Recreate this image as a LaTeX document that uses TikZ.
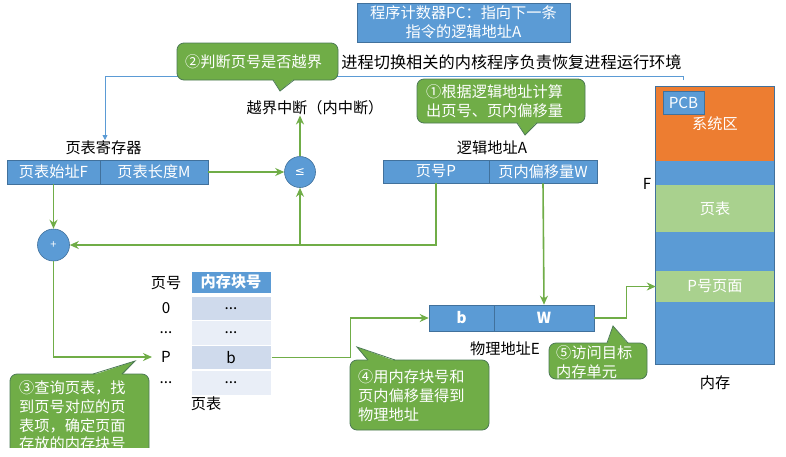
\documentclass[tikz,border=0pt]{standalone}
\usepackage{fontspec}
\setmainfont{Noto Sans CJK SC}
\newfontfamily\djsym{DejaVu Sans}
\usetikzlibrary{arrows.meta}
\definecolor{cblue}{HTML}{5B9BD5}
\definecolor{bdr}{HTML}{41719C}
\definecolor{cgreen}{HTML}{70AD47}
\definecolor{lgreen}{HTML}{A9D18E}
\definecolor{corange}{HTML}{ED7D31}
\definecolor{rowa}{HTML}{CFDAEC}
\definecolor{rowb}{HTML}{E9EEF7}
\definecolor{cbord}{HTML}{4C7A55}
\begin{document}
\begin{tikzpicture}[x=1pt,y=-1pt,
  every node/.style={font=\fontsize{15.2}{18.7}\selectfont, inner sep=0pt},
  bluebox/.style={draw=bdr, line width=0.6pt, fill=cblue, text=white},
  circ/.style={circle, draw=bdr, line width=0.6pt, fill=cblue, text=white},
  seg/.style={minimum width=118, text=white},
  cell/.style={draw=white, line width=1pt, minimum width=80},
  lbl/.style={text=black},
  ctext/.style={text=white, align=left, anchor=west},
  cbox/.style={draw=cbord, line width=0.8pt, fill=cgreen, rounded corners=7pt},
  cfill/.style={fill=cgreen},
  cline/.style={draw=cbord, line width=0.8pt},
  garrow/.style={draw=cgreen, line width=1.6pt, -{Stealth[length=9pt,width=8pt]}},
  barrow/.style={draw=cblue, line width=0.8pt, -{Triangle[length=5pt,width=5pt]}}]
\useasboundingbox (0,0) rectangle (786,456);
\clip (0,0) rectangle (786,456);
\fill[white] (0,0) rectangle (786,456);

% top PC box and text
\node[bluebox, minimum width=213, minimum height=39, align=center, font=\fontsize{15.2}{19}\selectfont] (pc) at (463.5,22.5) {程序计数器PC：指向下一条\\指令的逻辑地址A};
\node[lbl, font=\fontsize{16.2}{19}\selectfont] (env) at (511.5,62) {进程切换相关的内核程序负责恢复进程运行环境};

% memory
\node[seg, fill=corange, minimum height=74] (sys) at (715,124) {系统区};
\node[seg, fill=cblue, minimum height=24] (m1) at (715,173) {};
\node[seg, fill=lgreen, minimum height=47] (pt) at (715,208.5) {页表};
\node[seg, fill=cblue, minimum height=39] (m2) at (715,251.5) {};
\node[seg, fill=lgreen, minimum height=31] (pg) at (715,286.5) {P号页面};
\node[seg, fill=cblue, minimum height=62] (m3) at (715,333) {};
\draw[bdr, line width=0.8pt] (sys.north west) rectangle (m3.south east);
\node[bluebox, minimum width=41, minimum height=23] (pcb) at (683.5,102.5) {PCB};
\node[lbl] (fl) at (647,184) {F};
\node[lbl] (meml) at (715,383) {内存};

% thin blue connector
\coordinate (pcbtop) at (683,80);
\node[lbl] (regl) at (103.5,148) {页表寄存器};
\draw[barrow] (pcbtop) -- (683,76) -- (105,76) -- (105,140);

% callout 2
\draw[cbox] (177,43) rectangle (338,80);
\fill[cfill] (273,79) -- (280,91) -- (294,79) -- cycle;
\draw[cline] (273,80) -- (280,91) -- (294,80);
\node[ctext] (c2) at (185,61.5) {②判断页号是否越界};

% callout 1
\draw[cbox] (417,79) rectangle (585,123);
\fill[cfill] (517,122) -- (525,135) -- (537,122) -- cycle;
\draw[cline] (517,123) -- (525,135) -- (537,123);
\node[ctext] (c1) at (426,101) {①根据逻辑地址计算\\出页号、页内偏移量};

% interrupt text
\node[lbl] (intr) at (315,108) {越界中断（内中断）};

% page table register
\node[bluebox, minimum width=93, minimum height=24] (rF) at (53.5,172) {页表始址F};
\node[bluebox, minimum width=108, minimum height=24] (rM) at (154,172) {页表长度M};

% compare and add circles
\node[circ, minimum size=31, font=\djsym\fontsize{12}{14}\selectfont] (le) at (300,172) {≤};
\node[circ, minimum size=32, font=\fontsize{11}{13}\selectfont] (plus) at (53.5,245) {+};

% logical address
\node[lbl] (la) at (492,148) {逻辑地址A};
\node[bluebox, minimum width=106, minimum height=23] (lP) at (436,171.5) {页号P};
\node[bluebox, minimum width=108, minimum height=23] (lW) at (543,171.5) {页内偏移量W};

% page table
\node[lbl] (hp) at (166,283) {页号};
\node[cell, fill=cblue, text=white, minimum height=22, font=\bfseries\fontsize{15.2}{18}\selectfont] (hd) at (231,282) {内存块号};
\node[cell, fill=rowa, minimum height=24] (r1) at (231,308.5) {...};
\node[cell, fill=rowb, minimum height=25] (r2) at (231,333) {...};
\node[cell, fill=rowa, minimum height=24] (r3) at (231,357.5) {b};
\node[cell, fill=rowb, minimum height=25] (r4) at (231,382.5) {...};
\node[lbl] (l1) at (166,308.5) {0};
\node[lbl] (l2) at (166,333) {...};
\node[lbl] (lp) at (166,357) {P};
\node[lbl] (l4) at (166,382.5) {...};
\node[lbl] (ptl) at (206,404) {页表};

% physical address
\node[bluebox, minimum width=65, minimum height=26, font=\bfseries\fontsize{15.2}{18}\selectfont] (pb) at (461.5,318) {b};
\node[bluebox, minimum width=100, minimum height=26, font=\bfseries\fontsize{15.2}{18}\selectfont] (pW) at (544,318) {W};
\node[lbl] (pal) at (505,349) {物理地址E};

% connectors
\draw[garrow] (rM.east) -- (le.west);
\draw[garrow] (le.north) -- (le.north |- intr.south);
\draw[garrow] (rF.south) -- (plus.north);
\draw[garrow] (lP.south) |- (plus.east);
\draw[garrow] (le.south |- plus.east) -- (le.south);
\draw[garrow] (plus.south) |- ([xshift=-9pt]lp.west);
\draw[garrow] (r3.east) -- ++(79,0) |- (pb.west);
\draw[garrow] (lW.south) -- (pW.north);
\draw[garrow] (pW.east) -- ++(32,0) |- (pg.west);

% callout 5
\draw[cbox] (549,343) rectangle (647,379);
\fill[cfill] (607,344) -- (613,326) -- (628,344) -- cycle;
\draw[cline] (607,343) -- (613,326) -- (628,343);
\node[ctext] (c5) at (556,362) {⑤访问目标\\内存单元};

% callout 4
\draw[cbox] (350,360) rectangle (489,430);
\fill[cfill] (368,361) -- (357,347) -- (395,361) -- cycle;
\draw[cline] (368,360) -- (357,347) -- (395,360);
\node[ctext] (c4) at (358,395.5) {④用内存块号和\\页内偏移量得到\\物理地址};

% callout 3 (cut off at the bottom)
\begin{scope}
\clip (0,0) rectangle (786,447);
\draw[cbox] (10,374) rectangle (149,480);
\fill[cfill] (93,375) -- (135,361) -- (122,375) -- cycle;
\draw[cline] (93,374) -- (135,361) -- (122,374);
\node[ctext] (c3) at (19,416) {③查询页表，找\\到页号对应的页\\表项，确定页面\\存放的内存块号};
\end{scope}
\end{tikzpicture}
\end{document}
